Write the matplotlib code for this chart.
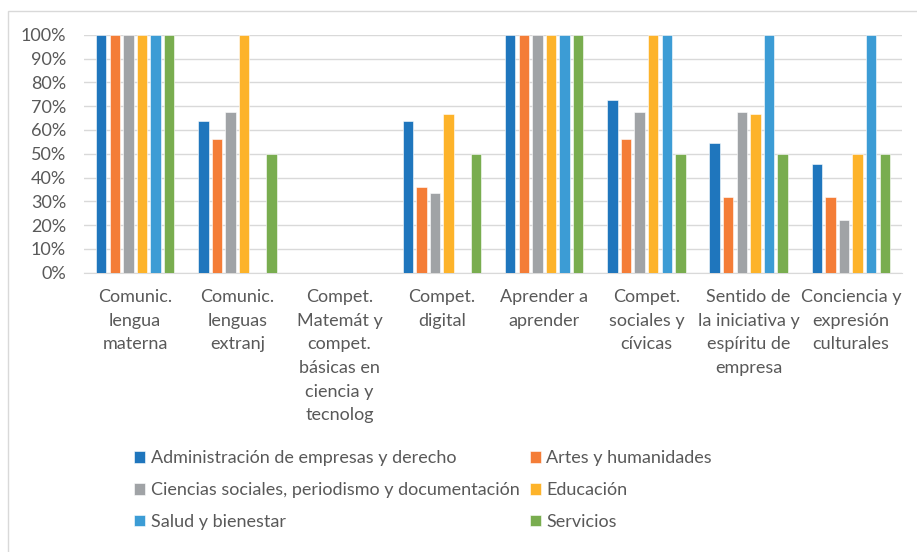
import numpy as np
import matplotlib.pyplot as plt
from matplotlib.patches import Rectangle

categories = [
    "Comunic.\nlengua\nmaterna",
    "Comunic.\nlenguas\nextranj",
    "Compet.\nMatemát y\ncompet.\nbásicas en\nciencia y\ntecnolog",
    "Compet.\ndigital",
    "Aprender a\naprender",
    "Compet.\nsociales y\ncívicas",
    "Sentido de\nla iniciativa y\nespíritu de\nempresa",
    "Conciencia y\nexpresión\nculturales",
]
series_names = [
    "Administración de empresas y derecho",
    "Artes y humanidades",
    "Ciencias sociales, periodismo y documentación",
    "Educación",
    "Salud y bienestar",
    "Servicios",
]
admin = [100, 63.6, 0, 63.6, 100, 72.7, 54.5, 45.5]
artes = [100, 56, 0, 36, 100, 56, 32, 32]
ciencias = [100, 67.6, 0, 33.3, 100, 67.6, 67.6, 22.2]
educacion = [100, 100, 0, 66.7, 100, 100, 66.7, 50]
salud = [100, 0, 0, 0, 100, 100, 100, 100]
servicios = [100, 50, 0, 50, 100, 50, 50, 50]
values = [admin, artes, ciencias, educacion, salud, servicios]
colors = ["#1f76bd", "#f47d37", "#a0a3a6", "#fdb32a", "#3c9cd5", "#79ad4f"]

plt.rcParams['font.family'] = ['Lato', 'DejaVu Sans']
text_color = "#595959"

fig = plt.figure(figsize=(9.17, 5.52), dpi=100)
ax = fig.add_axes([84 / 917, 1 - 272.7 / 552, (902 - 84) / 917, (272.7 - 34.7) / 552])

x = np.arange(len(categories))
w = 0.102
pitch = 0.133
for i, (vals, name, c) in enumerate(zip(values, series_names, colors)):
    ax.bar(x + (i - 2.5) * pitch, vals, w, color=c, label=name,
           edgecolor="white", linewidth=0.4, zorder=3)

ax.set_xlim(-0.5, len(categories) - 0.5)
ax.set_ylim(0, 100)
ax.set_yticks(np.arange(0, 101, 10))
ax.set_yticklabels([f"{v}%" for v in range(0, 101, 10)])
ax.yaxis.grid(True, color="#d9d9d9", linewidth=1, zorder=0)
ax.set_xticks(x)
ax.set_xticklabels(categories, linespacing=1.58, va="top")
ax.tick_params(axis="both", length=0, labelsize=13, colors=text_color)
ax.tick_params(axis="x", pad=12)
ax.tick_params(axis="y", pad=13)
for s in ["top", "right", "left"]:
    ax.spines[s].set_visible(False)
ax.spines["bottom"].set_color("#d9d9d9")

handles, labels = ax.get_legend_handles_labels()
order = [0, 2, 4, 1, 3, 5]
leg = fig.legend([handles[k] for k in order], [labels[k] for k in order],
                 ncol=2, loc="upper left", bbox_to_anchor=(118 / 917, 1 - 434 / 552),
                 frameon=False, fontsize=13, handlelength=0.6, handleheight=0.6,
                 handletextpad=0.3, labelspacing=0.88, columnspacing=0.6)
for t in leg.get_texts():
    t.set_color(text_color)

fig.patches.append(Rectangle((8 / 917, -0.1), 1.2, 1 - 11 / 552 + 0.1,
                             transform=fig.transFigure, fill=False,
                             edgecolor="#d9d9d9", linewidth=1))

fig.savefig("out.png", dpi=100)
